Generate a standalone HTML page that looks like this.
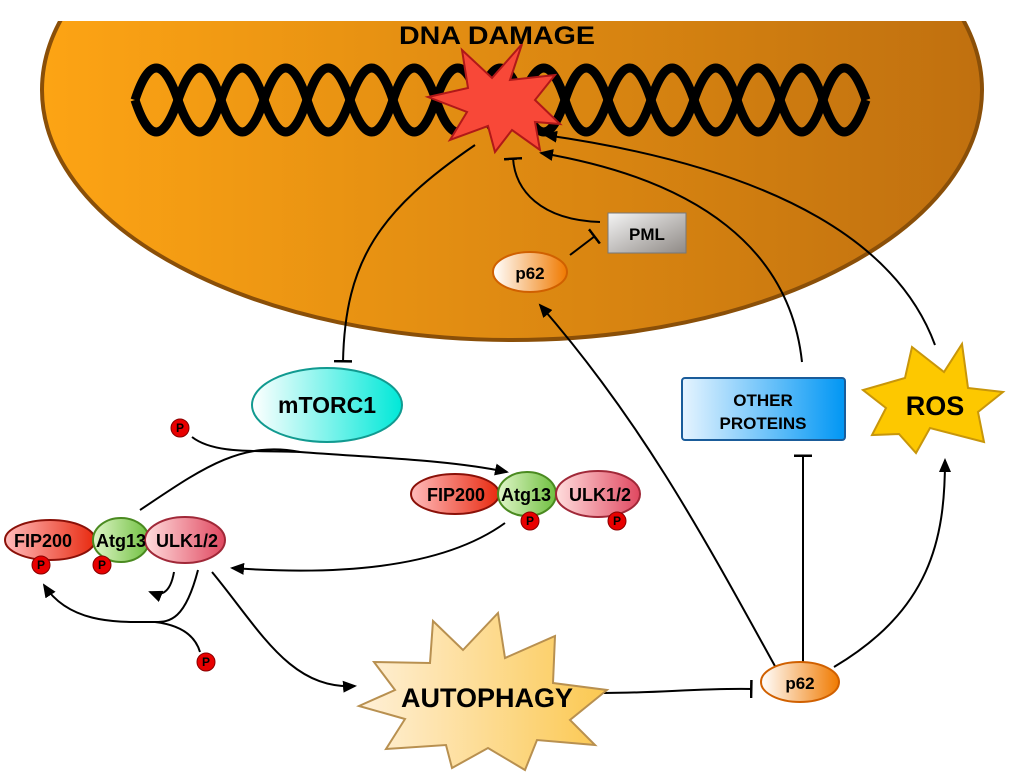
<!DOCTYPE html>
<html><head><meta charset="utf-8"><style>
html,body{margin:0;padding:0;background:#fff;}
svg{display:block;}
text{font-family:"Liberation Sans",Arial,sans-serif;font-weight:bold;fill:#000;}
</style></head><body>
<svg width="1024" height="781" viewBox="0 0 1024 781" xmlns="http://www.w3.org/2000/svg">
<defs>
<linearGradient id="nuc" x1="0" y1="0" x2="1" y2="0"><stop offset="0" stop-color="#fda414"/><stop offset="1" stop-color="#c0700f"/></linearGradient>
<linearGradient id="p62g" x1="0" y1="0" x2="1" y2="0"><stop offset="0" stop-color="#fff"/><stop offset="1" stop-color="#f07a00"/></linearGradient>
<linearGradient id="pmlg" x1="0" y1="0" x2="1" y2="1"><stop offset="0" stop-color="#f4f4f4"/><stop offset="1" stop-color="#8f8a86"/></linearGradient>
<linearGradient id="cyg" x1="0" y1="0" x2="1" y2="0"><stop offset="0" stop-color="#fff"/><stop offset="1" stop-color="#00e8d8"/></linearGradient>
<linearGradient id="blg" x1="0" y1="0" x2="1" y2="0"><stop offset="0" stop-color="#e6f4ff"/><stop offset="1" stop-color="#0096f4"/></linearGradient>
<linearGradient id="redg" x1="0" y1="0" x2="1" y2="0"><stop offset="0" stop-color="#fbb"/><stop offset="1" stop-color="#e82a10"/></linearGradient>
<linearGradient id="pinkg" x1="0" y1="0" x2="1" y2="0"><stop offset="0" stop-color="#fdd"/><stop offset="1" stop-color="#e04860"/></linearGradient>
<linearGradient id="grg" x1="0" y1="0" x2="1" y2="0"><stop offset="0" stop-color="#dff5c8"/><stop offset="1" stop-color="#70c040"/></linearGradient>
<linearGradient id="autg" x1="0" y1="0" x2="1" y2="0"><stop offset="0" stop-color="#fff0d8"/><stop offset="1" stop-color="#fbc850"/></linearGradient>
<marker id="ar" markerWidth="14" markerHeight="12" refX="12" refY="6" orient="auto" markerUnits="userSpaceOnUse"><path d="M0,0 L14,6 L0,12 Z" fill="#000"/></marker>
<marker id="tb" markerWidth="4" markerHeight="18" refX="2" refY="9" orient="auto" markerUnits="userSpaceOnUse"><rect x="0" y="0" width="2.5" height="18" fill="#000"/></marker>
</defs>

<ellipse cx="512" cy="90" rx="470" ry="250" fill="url(#nuc)" stroke="#8a4f08" stroke-width="4"/>
<rect x="0" y="0" width="1024" height="21" fill="#fff"/>

<g fill="none" stroke="#000" stroke-width="9">
<path d="M135,100 Q156,36 178,100 T221,100 T264,100 T307,100 T350,100 T393,100 T436,100 T479,100 T522,100 T565,100 T608,100 T651,100 T694,100 T737,100 T780,100 T823,100 T866,100"/>
<path d="M135,100 Q156,164 178,100 T221,100 T264,100 T307,100 T350,100 T393,100 T436,100 T479,100 T522,100 T565,100 T608,100 T651,100 T694,100 T737,100 T780,100 T823,100 T866,100"/>
</g>

<polygon points="522,44 510,80 555,75 535,100 560,124 535,122 540,150 512,130 495,152 488,126 450,140 467,112 428,97 468,88 462,50 492,78" fill="#f84838" stroke="#b01818" stroke-width="2"/>
<text x="497" y="44" font-size="25" text-anchor="middle" textLength="196" lengthAdjust="spacingAndGlyphs">DNA DAMAGE</text>

<rect x="608" y="213" width="78" height="40" fill="url(#pmlg)" stroke="#777" stroke-width="1"/>
<text x="647" y="240" font-size="17" text-anchor="middle">PML</text>
<ellipse cx="530" cy="272" rx="37" ry="20" fill="url(#p62g)" stroke="#d06000" stroke-width="2"/>
<text x="530" y="279" font-size="17" text-anchor="middle">p62</text>

<g fill="none" stroke="#000" stroke-width="2">
<path d="M475,145 C380,210 345,260 343,362" marker-end="url(#tb)"/>
<path d="M600,222 C540,220 515,190 513,158" marker-end="url(#tb)"/>
<path d="M570,255 L595,236" marker-end="url(#tb)"/>
<path d="M802,362 C790,250 700,180 541,153" marker-end="url(#ar)"/>
<path d="M935,345 C900,250 790,170 545,135" marker-end="url(#ar)"/>
<path d="M776,668 C700,530 640,420 540,305" marker-end="url(#ar)"/>
<path d="M803,668 L803,455" marker-end="url(#tb)"/>
<path d="M834,667 C930,610 945,540 945,460" marker-end="url(#ar)"/>
<path d="M604,693 C660,693 700,688 752,689" marker-end="url(#tb)"/>
<path d="M192,437 C215,455 260,450 300,452 C380,458 450,460 507,472" marker-end="url(#ar)"/>
<path d="M140,510 C200,470 240,440 300,452"/>
<path d="M505,523 C440,570 330,575 232,568" marker-end="url(#ar)"/>
<path d="M212,572 C260,630 290,690 355,686" marker-end="url(#ar)"/>
<path d="M174,572 C170,595 160,596 150,592" marker-end="url(#ar)"/>
<path d="M198,570 C185,620 170,622 155,622 C120,622 70,625 44,585" marker-end="url(#ar)"/>
<path d="M155,622 C180,625 195,635 200,652"/>
</g>

<ellipse cx="327" cy="405" rx="75" ry="37" fill="url(#cyg)" stroke="#119a90" stroke-width="2"/>
<text x="327" y="413" font-size="23" text-anchor="middle">mTORC1</text>

<rect x="682" y="378" width="163" height="62" rx="3" fill="url(#blg)" stroke="#1a5c9a" stroke-width="2"/>
<text x="763" y="406" font-size="17" text-anchor="middle">OTHER</text>
<text x="763" y="429" font-size="17" text-anchor="middle">PROTEINS</text>

<polygon points="912,347 944,372 962,344 968,388 1003,392 978,412 984,442 930,428 916,453 899,434 872,435 886,408 863,390 905,378" fill="#fdc800" stroke="#c8960a" stroke-width="2"/>
<text x="935" y="415" font-size="27" text-anchor="middle">ROS</text>

<polygon points="433,621 463,650 498,613 505,658 555,636 553,683 607,690 570,720 595,745 537,740 525,770 488,748 452,768 446,745 386,749 405,719 359,706 395,690 374,662 430,663" fill="url(#autg)" stroke="#b89050" stroke-width="2"/>
<text x="487" y="707" font-size="27" text-anchor="middle">AUTOPHAGY</text>

<ellipse cx="800" cy="682" rx="39" ry="20" fill="url(#p62g)" stroke="#d06000" stroke-width="2"/>
<text x="800" y="689" font-size="17" text-anchor="middle">p62</text>

<ellipse cx="455" cy="494" rx="44" ry="20" fill="url(#redg)" stroke="#8a1008" stroke-width="2"/>
<ellipse cx="527" cy="494" rx="29" ry="22" fill="url(#grg)" stroke="#4a8a20" stroke-width="2"/>
<ellipse cx="598" cy="494" rx="42" ry="23" fill="url(#pinkg)" stroke="#a02838" stroke-width="2"/>
<text x="456" y="501" font-size="18" text-anchor="middle">FIP200</text>
<text x="526" y="501" font-size="18" text-anchor="middle">Atg13</text>
<text x="600" y="501" font-size="18" text-anchor="middle">ULK1/2</text>

<ellipse cx="50" cy="540" rx="45" ry="20" fill="url(#redg)" stroke="#8a1008" stroke-width="2"/>
<ellipse cx="121" cy="540" rx="28" ry="22" fill="url(#grg)" stroke="#4a8a20" stroke-width="2"/>
<ellipse cx="185" cy="540" rx="40" ry="23" fill="url(#pinkg)" stroke="#a02838" stroke-width="2"/>
<text x="43" y="547" font-size="18" text-anchor="middle">FIP200</text>
<text x="121" y="547" font-size="18" text-anchor="middle">Atg13</text>
<text x="187" y="547" font-size="18" text-anchor="middle">ULK1/2</text>

<g fill="#e80000" stroke="#800" stroke-width="1">
<circle cx="180" cy="428" r="9"/>
<circle cx="530" cy="521" r="9"/>
<circle cx="617" cy="521" r="9"/>
<circle cx="41" cy="565" r="9"/>
<circle cx="102" cy="565" r="9"/>
<circle cx="206" cy="662" r="9"/>
</g>
<g font-size="12" text-anchor="middle">
<text x="180" y="432">P</text>
<text x="530" y="525">P</text>
<text x="617" y="525">P</text>
<text x="41" y="569">P</text>
<text x="102" y="569">P</text>
<text x="206" y="666">P</text>
</g>
</svg>
</body></html>
